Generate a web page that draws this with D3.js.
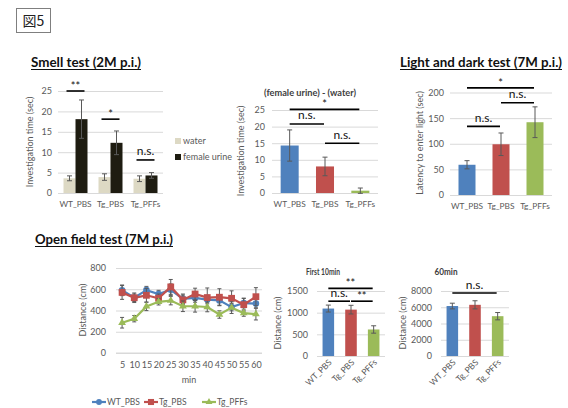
<!DOCTYPE html>
<html><head><meta charset="utf-8">
<script src="https://cdn.jsdelivr.net/npm/d3@7/dist/d3.min.js"></script>
<style>body{margin:0;background:#fff}svg{display:block}</style>
</head><body>
<svg id="c" width="568" height="408"></svg>
<script>
// ---------- data ----------
const groups = ["WT_PBS", "Tg_PBS", "Tg_PFFs"];
const smellSeries = ["water", "female urine"];
const smellWater = [3.6, 3.9, 3.5];
const smellWaterErr = [0.6, 0.8, 0.7];
const smellUrine = [18.1, 12.3, 4.3];
const smellUrineErr = [4.7, 2.9, 0.7];
const smellTicks = [0, 5, 10, 15, 20, 25];
const smellSig = [{g: "WT_PBS", level: 25, label: "**"}, {g: "Tg_PBS", level: 18.1, label: "*"}, {g: "Tg_PFFs", level: 8.1, label: "n.s."}];

const diffValues = [14.3, 8.0, 0.7];
const diffErr = [4.7, 2.8, 0.8];
const diffTicks = [0, 5, 10, 15, 20, 25];
const diffSig = [{a: "WT_PBS", b: "Tg_PFFs", level: 25.2, label: "*"}, {a: "WT_PBS", b: "Tg_PBS", level: 20.8, label: "n.s."}, {a: "Tg_PBS", b: "Tg_PFFs", level: 15.0, label: "n.s."}];

const ldValues = [59, 99, 142];
const ldErr = [8, 22, 30];
const ldTicks = [0, 50, 100, 150, 200];
const ldSig = [{a: "WT_PBS", b: "Tg_PFFs", level: 209, label: "*"}, {a: "Tg_PBS", b: "Tg_PFFs", level: 180, label: "n.s."}, {a: "WT_PBS", b: "Tg_PBS", level: 134, label: "n.s."}];

const minutes = [5, 10, 15, 20, 25, 30, 35, 40, 45, 50, 55, 60];
const ofWT = [590, 520, 592, 555, 595, 510, 518, 503, 495, 432, 470, 465];
const ofWTErr = [50, 35, 35, 35, 55, 45, 40, 40, 45, 35, 45, 40];
const ofTgPBS = [570, 520, 543, 515, 622, 500, 555, 522, 525, 515, 455, 530];
const ofTgPBSErr = [65, 45, 65, 40, 70, 45, 55, 90, 80, 70, 60, 85];
const ofTgPFFs = [285, 323, 439, 482, 493, 440, 440, 433, 362, 427, 376, 366];
const ofTgPFFsErr = [50, 30, 40, 30, 40, 50, 55, 45, 35, 55, 30, 55];
const ofTicks = [0, 200, 400, 600, 800];

const first10 = [1095, 1070, 612];
const first10Err = [80, 100, 85];
const first10Ticks = [0, 500, 1000, 1500];
const first10Sig = [{a: "WT_PBS", b: "Tg_PFFs", level: 1560, label: "**"}, {a: "WT_PBS", b: "Tg_PBS", level: 1265, label: "n.s."}, {a: "Tg_PBS", b: "Tg_PFFs", level: 1265, label: "**"}];

const total60 = [6150, 6300, 4900];
const total60Err = [350, 500, 450];
const total60Ticks = [0, 2000, 4000, 6000, 8000];
const total60Sig = [{a: "WT_PBS", b: "Tg_PFFs", level: 7750, label: "n.s."}];

// ---------- style ----------
const FONT = "Lato, 'Open Sans', sans-serif";
const C3 = ["#4f81bd", "#c0504d", "#9bbb59"];
const SMELL_C = ["#ddd9c4", "#1e1c11"];
const GRID = "#d9d9d9", TXT = "#595959", ERR = "#595959";

const svg = d3.select("#c");

// figure label
svg.append("rect").attr("x", 16.5).attr("y", 8.5).attr("width", 34).attr("height", 24)
  .attr("fill", "#fff").attr("stroke", "#7f7f7f");
svg.append("text").attr("x", 33.5).attr("y", 26).attr("text-anchor", "middle")
  .attr("font-family", "'Noto Sans CJK JP', sans-serif").attr("font-size", 14).attr("fill", "#222").text("図5");

function sectionTitle(x, y, w, t) {
  svg.append("text").attr("x", x).attr("y", y).attr("font-family", FONT).attr("font-weight", 700)
    .attr("font-size", 13).attr("fill", "#111").attr("textLength", w).attr("lengthAdjust", "spacingAndGlyphs").text(t);
  svg.append("line").attr("x1", x).attr("x2", x + w).attr("y1", y + 2.5).attr("y2", y + 2.5)
    .attr("stroke", "#111").attr("stroke-width", 1);
}
sectionTitle(31, 67, 110, "Smell test (2M p.i.)");
sectionTitle(400, 67, 162, "Light and dark test (7M p.i.)");
sectionTitle(35, 244, 138, "Open field test (7M p.i.)");

function yAxis(y, left, right, ticks, pad) {
  const ax = svg.append("g").attr("transform", `translate(${left},0)`)
    .call(d3.axisLeft(y).tickValues(ticks).tickSize(-(right - left)).tickPadding(pad).tickFormat(d3.format("d")));
  ax.select(".domain").remove();
  ax.selectAll(".tick line").attr("stroke", GRID).attr("stroke-width", 1);
  ax.selectAll(".tick text").attr("fill", TXT).attr("font-size", 9).attr("font-family", FONT);
}
function xAxis(x, y0, pad, fs) {
  const ax = svg.append("g").attr("transform", `translate(0,${y0})`)
    .call(d3.axisBottom(x).tickSize(0).tickPadding(pad));
  ax.select(".domain").remove();
  ax.selectAll(".tick text").attr("fill", TXT).attr("font-size", fs || 9).attr("font-family", FONT);
}
function yTitle(x, y, t) {
  svg.append("text").attr("transform", `translate(${x},${y}) rotate(-90)`).attr("text-anchor", "middle")
    .attr("fill", TXT).attr("font-size", 9).attr("font-family", FONT).text(t);
}
function chartTitle(x, y, w, t) {
  svg.append("text").attr("x", x).attr("y", y).attr("text-anchor", "middle").attr("fill", "#404040")
    .attr("font-size", 8.5).attr("font-weight", 700).attr("font-family", FONT)
    .attr("textLength", w).attr("lengthAdjust", "spacingAndGlyphs").text(t);
}
function errBar(cx, y, v, e, cap) {
  const g = svg.append("g").attr("stroke", ERR).attr("stroke-width", 1);
  g.append("line").attr("x1", cx).attr("x2", cx).attr("y1", y(v - e)).attr("y2", y(v + e));
  g.append("line").attr("x1", cx - cap).attr("x2", cx + cap).attr("y1", y(v - e)).attr("y2", y(v - e));
  g.append("line").attr("x1", cx - cap).attr("x2", cx + cap).attr("y1", y(v + e)).attr("y2", y(v + e));
}
function sigMark(x1, x2, yy, label) {
  svg.append("line").attr("x1", x1).attr("x2", x2).attr("y1", yy).attr("y2", yy)
    .attr("stroke", "#000").attr("stroke-width", 1.6);
  const star = label.indexOf("*") >= 0;
  svg.append("text").attr("x", (x1 + x2) / 2).attr("y", star ? yy - 1 : yy - 4.5)
    .attr("text-anchor", "middle").attr("font-family", FONT).attr("font-size", star ? 11 : 12)
    .attr("fill", "#111").text(label);
}
function barChart(o) {
  const y = d3.scaleLinear().domain([0, o.max]).range([o.bottom, o.top]);
  const x = d3.scaleBand().domain(groups).range([o.left, o.right]).paddingInner(o.pad).paddingOuter(o.pad / 2);
  yAxis(y, o.left, o.right, o.ticks, o.tpad);
  svg.append("g").selectAll("rect").data(groups).join("rect")
    .attr("x", d => x(d)).attr("width", x.bandwidth())
    .attr("y", (d, i) => y(o.values[i])).attr("height", (d, i) => y(0) - y(o.values[i]))
    .attr("fill", (d, i) => C3[i]);
  groups.forEach((d, i) => errBar(x(d) + x.bandwidth() / 2, y, o.values[i], o.errs[i], 2.5));
  o.sig.forEach(s => sigMark(x(s.a) + x.bandwidth() / 2, x(s.b) + x.bandwidth() / 2 - 1, y(s.level), s.label));
  if (o.rotate) {
    groups.forEach(d => {
      const cx = x(d) + x.bandwidth() / 2 + 4, cy = o.bottom + 7;
      svg.append("text").attr("x", cx).attr("y", cy).attr("transform", `rotate(-45,${cx},${cy})`)
        .attr("text-anchor", "end").attr("fill", TXT).attr("font-size", 8.5).attr("font-family", FONT).text(d);
    });
  } else {
    xAxis(x, o.bottom, 8, 8.3);
  }
  return {x, y};
}

// ---------- smell test (grouped) ----------
{
  const top = 91, bottom = 193, left = 58, right = 163;
  const y = d3.scaleLinear().domain([0, 25]).range([bottom, top]);
  const x = d3.scaleBand().domain(groups).range([left, right]);
  const sub = d3.scaleBand().domain(smellSeries).range([-12, 12]);
  yAxis(y, left, right, smellTicks, 6);
  const vals = [smellWater, smellUrine], errs = [smellWaterErr, smellUrineErr];
  smellSeries.forEach((s, si) => {
    svg.append("g").selectAll("rect").data(groups).join("rect")
      .attr("x", d => x(d) + x.bandwidth() / 2 + sub(s)).attr("width", sub.bandwidth())
      .attr("y", (d, i) => y(vals[si][i])).attr("height", (d, i) => y(0) - y(vals[si][i]))
      .attr("fill", SMELL_C[si]);
  });
  smellSeries.forEach((s, si) => groups.forEach((d, i) =>
    errBar(x(d) + x.bandwidth() / 2 + sub(s) + sub.bandwidth() / 2, y, vals[si][i], errs[si][i], 2.5)));
  smellSig.forEach(s => { const c = x(s.g) + x.bandwidth() / 2; sigMark(c - 9, c + 9, y(s.level), s.label); });
  xAxis(x, bottom, 8, 8.3);
  yTitle(33, 142, "Investigation time (sec)");
  // legend
  smellSeries.forEach((s, i) => {
    const ly = 141 + i * 16;
    svg.append("rect").attr("x", 175).attr("y", ly - 3).attr("width", 6).attr("height", 6).attr("fill", SMELL_C[i]);
    svg.append("text").attr("x", 183).attr("y", ly + 3).attr("fill", TXT).attr("font-size", 9)
      .attr("font-family", FONT).text(s);
  });
}

// ---------- (female urine) - (water) ----------
barChart({top: 110, bottom: 193, left: 272, right: 378, max: 25, ticks: diffTicks, tpad: 7, pad: 0.49,
  values: diffValues, errs: diffErr, sig: diffSig});
yTitle(244, 151, "Investigation time (sec)");
chartTitle(310, 96, 92, "(female urine) - (water)");

// ---------- light and dark ----------
barChart({top: 92.5, bottom: 195, left: 450, right: 552, max: 200, ticks: ldTicks, tpad: 6, pad: 0.5,
  values: ldValues, errs: ldErr, sig: ldSig});
yTitle(423, 143, "Latency to enter light (sec)");

// ---------- open field line chart ----------
{
  const top = 268, bottom = 353, left = 116, right = 262;
  const y = d3.scaleLinear().domain([0, 800]).range([bottom, top]);
  const x = d3.scalePoint().domain(minutes).range([left, right]).padding(0.5);
  yAxis(y, left, right, ofTicks, 10);
  svg.append("line").attr("x1", left).attr("x2", right).attr("y1", bottom).attr("y2", bottom).attr("stroke", GRID);
  xAxis(x, bottom, 9, 9);
  svg.append("text").attr("x", 189).attr("y", 383).attr("text-anchor", "middle").attr("fill", TXT)
    .attr("font-size", 9).attr("font-family", FONT).text("min");
  yTitle(86, 310, "Distance (cm)");
  const series = [
    {name: "WT_PBS", v: ofWT, e: ofWTErr, sym: d3.symbolCircle, size: 34},
    {name: "Tg_PBS", v: ofTgPBS, e: ofTgPBSErr, sym: d3.symbolSquare, size: 46},
    {name: "Tg_PFFs", v: ofTgPFFs, e: ofTgPFFsErr, sym: d3.symbolTriangle, size: 26}
  ];
  const line = d3.line().x((d, i) => x(minutes[i])).y(d => y(d));
  series.forEach((s, si) => {
    s.v.forEach((v, i) => errBar(x(minutes[i]), y, v, s.e[i], 2));
    svg.append("path").datum(s.v).attr("d", line).attr("fill", "none").attr("stroke", C3[si]).attr("stroke-width", 2.2);
    svg.append("g").selectAll("path").data(s.v).join("path")
      .attr("transform", (d, i) => `translate(${x(minutes[i])},${y(d)})`)
      .attr("d", d3.symbol(s.sym, s.size)).attr("fill", C3[si]);
  });
  // legend
  const lx = [92, 144, 202];
  series.forEach((s, si) => {
    const ly = 402;
    svg.append("line").attr("x1", lx[si]).attr("x2", lx[si] + 14).attr("y1", ly).attr("y2", ly)
      .attr("stroke", C3[si]).attr("stroke-width", 2.2);
    svg.append("path").attr("transform", `translate(${lx[si] + 7},${ly})`)
      .attr("d", d3.symbol(s.sym, s.size * 0.8)).attr("fill", C3[si]);
    svg.append("text").attr("x", lx[si] + 15).attr("y", ly + 3).attr("fill", TXT).attr("font-size", 8.5)
      .attr("font-family", FONT).text(s.name);
  });
}

// ---------- First 10 min ----------
barChart({top: 291, bottom: 356, left: 317, right: 385, max: 1500, ticks: first10Ticks, tpad: 9, pad: 0.49,
  values: first10, errs: first10Err, sig: first10Sig, rotate: true});
yTitle(281, 323, "Distance (cm)");
chartTitle(323, 275, 34, "First 10min");

// ---------- 60 min ----------
barChart({top: 291, bottom: 356, left: 441, right: 509, max: 8000, ticks: total60Ticks, tpad: 9, pad: 0.49,
  values: total60, errs: total60Err, sig: total60Sig, rotate: true});
yTitle(406, 323, "Distance (cm)");
chartTitle(446, 275, 23, "60min");
</script>
</body></html>
